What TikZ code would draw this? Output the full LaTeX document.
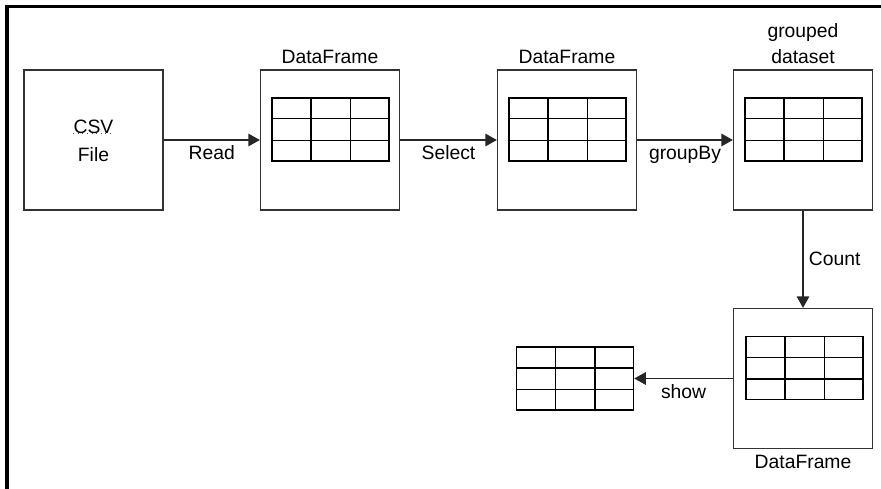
\documentclass[tikz,border=0pt]{standalone}
\usepackage{fontspec}
\setmainfont{Liberation Sans}
\usepackage{tikz}
\usetikzlibrary{positioning,arrows.meta,calc}
\tikzset{
  flow/.style={-{Triangle[length=2.3mm,width=2.5mm]}, line width=0.7pt, draw=black!85},
  stage/.style={draw=black!80, line width=0.7pt, fill=white,
    minimum width=2.78cm, minimum height=2.80cm, inner sep=0pt},
  grid/.style={draw=black, line width=0.85pt, minimum width=2.34cm,
    minimum height=1.26cm, inner sep=0pt},
  gridline/.style={draw=black, line width=0.85pt},
  caption/.style={font=\fontsize{11}{15}\selectfont, align=center, inner sep=2pt},
  edgelabel/.style={font=\fontsize{11}{13}\selectfont, inner sep=3pt}
}

\begin{document}
\begin{tikzpicture}
  \useasboundingbox (0,0) rectangle (17.62,-9.76);
  \draw[line width=1.8pt, black] (0.14,-9.80) -- (0.14,-0.13) -- (17.70,-0.13);

  % Stages of the pipeline.
  \node[stage] (csv) at (1.87,-2.80) {};
  \node[caption] (csvname) at (1.87,-2.54) {CSV};
  \node[caption] (csvfile) at (1.87,-3.10) {File};
  \draw[dotted, line width=0.6pt, black!70]
    ($(csvname.south west)+(0.07,0.08)$) -- ($(csvname.south east)+(-0.07,0.08)$);

  \node[stage] (frame1) at (6.60,-2.80) {};
  \node[stage] (frame2) at (11.34,-2.80) {};
  \node[stage] (grouped) at (16.06,-2.80) {};
  \node[stage] (frame3) at (16.06,-7.57) {};

  \node[caption, above=1pt of frame1] (frame1name) {DataFrame};
  \node[caption, above=1pt of frame2] (frame2name) {DataFrame};
  \node[caption, above=1pt of grouped] (groupedname) {grouped\\dataset};
  \node[caption, below=1pt of frame3] (frame3name) {DataFrame};

  % Tables.
  \node[grid] (tab1) at (6.61,-2.59) {};
  \node[grid] (tab2) at (11.35,-2.59) {};
  \node[grid] (tab3) at (16.07,-2.59) {};
  \node[grid] (tab4) at (16.09,-7.36) {};
  \node[grid] (tab5) at (11.50,-7.57) {};
  \foreach \t in {tab1,tab2,tab3,tab4,tab5}{
    \foreach \i in {1,2}{
      \draw[gridline] ($(\t.north west)!\i/3!(\t.north east)$)
        -- ($(\t.south west)!\i/3!(\t.south east)$);
      \draw[gridline] ($(\t.north west)!\i/3!(\t.south west)$)
        -- ($(\t.north east)!\i/3!(\t.south east)$);
    }
  }

  % Operations.
  \draw[flow] (csv.east) -- node[edgelabel, below] {Read} (frame1.west);
  \draw[flow] (frame1.east) -- node[edgelabel, below] {Select} (frame2.west);
  \draw[flow] (frame2.east) -- node[edgelabel, below] {groupBy} (grouped.west);
  \draw[flow] (grouped.south) -- node[edgelabel, right] {Count} (frame3.north);
  \draw[flow] (frame3.west) -- node[edgelabel, below] {show} (tab5.east);
\end{tikzpicture}
\end{document}
